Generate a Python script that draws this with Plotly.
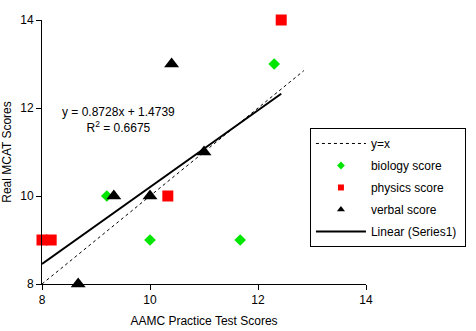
import plotly.graph_objects as go

# Data
bio_x = [9.2, 10.0, 11.67, 12.3]
bio_y = [10, 9, 9, 13]
phys_x = [8.0, 8.17, 10.33, 12.43]
phys_y = [9, 9, 10, 14]
verb_x = [8.67, 9.33, 10.0, 10.4, 11.0]
verb_y = [8, 10, 10, 13, 11]
yx_x = [8.0, 12.85]
slope, intercept = 0.8728, 1.4739
trend_x = [8.0, 12.43]
trend_y = [slope * v + intercept for v in trend_x]
r2 = 0.6675
ticks = [8, 10, 12, 14]

FONT = "Liberation Sans, Arial, sans-serif"
GREEN = "#00E600"
RED = "#FF0000"

fig = go.Figure()
# y = x dashed reference line
fig.add_trace(go.Scatter(x=yx_x, y=yx_x, mode="lines", name="y=x",
                         line=dict(color="black", width=1, dash="3px,3px"),
                         legendgroup="a", cliponaxis=False))
# actual markers (no legend)
fig.add_trace(go.Scatter(x=bio_x, y=bio_y, mode="markers", showlegend=False, cliponaxis=False,
                         marker=dict(symbol="diamond", size=9, color=GREEN)))
fig.add_trace(go.Scatter(x=phys_x, y=phys_y, mode="markers", showlegend=False, cliponaxis=False,
                         marker=dict(symbol="square", size=11, color=RED)))
fig.add_trace(go.Scatter(x=verb_x, y=verb_y, mode="markers", showlegend=False, cliponaxis=False,
                         marker=dict(symbol="triangle-up", size=13, color="black")))
# legend-only entries with small markers
fig.add_trace(go.Scatter(x=[None], y=[None], mode="markers", name="biology score",
                         marker=dict(symbol="diamond", size=6, color=GREEN), legendgroup="b"))
fig.add_trace(go.Scatter(x=[None], y=[None], mode="markers", name="physics score",
                         marker=dict(symbol="square", size=6, color=RED), legendgroup="c"))
fig.add_trace(go.Scatter(x=[None], y=[None], mode="markers", name="verbal score",
                         marker=dict(symbol="triangle-up", size=7, color="black"), legendgroup="d"))
# linear trendline
fig.add_trace(go.Scatter(x=trend_x, y=trend_y, mode="lines", name="Linear (Series1)\u00a0",
                         line=dict(color="black", width=2), legendgroup="e", cliponaxis=False))

fig.add_annotation(x=0.235, y=0.623, xref="paper", yref="paper", showarrow=False,
                   xanchor="center", yanchor="middle",
                   text=f"y = {slope}x + {intercept}<br>R<sup>2</sup> = {r2}",
                   font=dict(family=FONT, size=12, color="black"), align="center")

fig.update_layout(
    width=476, height=331,
    margin=dict(l=42, r=110, t=20, b=47, autoexpand=False),
    paper_bgcolor="white", plot_bgcolor="white",
    font=dict(family=FONT, size=12, color="black"),
    showlegend=True,
    legend=dict(x=0.827, y=0.591, xanchor="left", yanchor="top",
                bordercolor="black", borderwidth=1, bgcolor="white",
                itemwidth=50, tracegroupgap=3,
                font=dict(family=FONT, size=12, color="black")),
    xaxis=dict(range=[8, 14], tickvals=ticks, showgrid=False, zeroline=False,
               showline=True, linecolor="black", linewidth=1, automargin=False,
               ticks="outside", ticklen=5, tickcolor="black",
               title=dict(text="AAMC Practice Test Scores", standoff=10,
                          font=dict(family=FONT, size=12))),
    yaxis=dict(range=[8, 14], tickvals=ticks, showgrid=False, zeroline=False,
               showline=True, linecolor="black", linewidth=1, automargin=False,
               ticks="outside", ticklen=5, tickcolor="black",
               title=dict(text="Real MCAT Scores", standoff=6,
                          font=dict(family=FONT, size=12))),
)

fig.write_html("out.html")
